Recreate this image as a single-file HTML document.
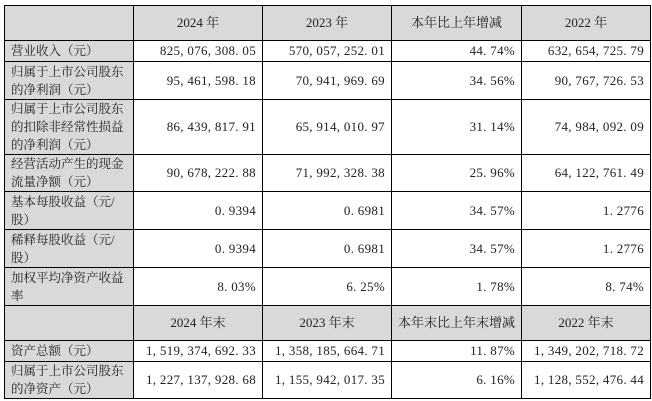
<!DOCTYPE html>
<html><head><meta charset="utf-8"><style>
html,body{margin:0;padding:0;background:#fff;width:652px;height:401px;overflow:hidden}
table{position:absolute;left:4px;top:5px;border-collapse:collapse;table-layout:fixed;font-family:"Liberation Serif","Noto Serif CJK SC",serif;font-size:13px;color:#222}
td{border:1.3px solid #000;padding:0 6px;line-height:18px;overflow:hidden;white-space:nowrap}
td.l{background:#d9d9d9;text-align:left;padding:0 0 0 6px;letter-spacing:0;font-size:12.5px}
td.n{text-align:right;letter-spacing:0.3px}
tr.h td{background:#d9d9d9;text-align:center}
</style></head><body>
<table>
<colgroup><col style="width:129px"><col style="width:129px"><col style="width:129px"><col style="width:126px"><col style="width:129px"></colgroup>
<tr class="h" style="height:35px"><td></td><td>2024 年</td><td>2023 年</td><td>本年比上年增减</td><td>2022 年</td></tr>
<tr style="height:21px"><td class="l">营业收入（元）</td><td class="n">825, 076, 308. 05</td><td class="n">570, 057, 252. 01</td><td class="n">44. 74%</td><td class="n">632, 654, 725. 79</td></tr>
<tr style="height:38px"><td class="l">归属于上市公司股东<br>的净利润（元）</td><td class="n">95, 461, 598. 18</td><td class="n">70, 941, 969. 69</td><td class="n">34. 56%</td><td class="n">90, 767, 726. 53</td></tr>
<tr style="height:54px"><td class="l">归属于上市公司股东<br>的扣除非经常性损益<br>的净利润（元）</td><td class="n">86, 439, 817. 91</td><td class="n">65, 914, 010. 97</td><td class="n">31. 14%</td><td class="n">74, 984, 092. 09</td></tr>
<tr style="height:37px"><td class="l">经营活动产生的现金<br>流量净额（元）</td><td class="n">90, 678, 222. 88</td><td class="n">71, 992, 328. 38</td><td class="n">25. 96%</td><td class="n">64, 122, 761. 49</td></tr>
<tr style="height:38px"><td class="l">基本每股收益（元/<br>股）</td><td class="n">0. 9394</td><td class="n">0. 6981</td><td class="n">34. 57%</td><td class="n">1. 2776</td></tr>
<tr style="height:38px"><td class="l">稀释每股收益（元/<br>股）</td><td class="n">0. 9394</td><td class="n">0. 6981</td><td class="n">34. 57%</td><td class="n">1. 2776</td></tr>
<tr style="height:38px"><td class="l">加权平均净资产收益<br>率</td><td class="n">8. 03%</td><td class="n">6. 25%</td><td class="n">1. 78%</td><td class="n">8. 74%</td></tr>
<tr class="h" style="height:35px"><td></td><td>2024 年末</td><td>2023 年末</td><td>本年末比上年末增减</td><td>2022 年末</td></tr>
<tr style="height:21px"><td class="l">资产总额（元）</td><td class="n">1, 519, 374, 692. 33</td><td class="n">1, 358, 185, 664. 71</td><td class="n">11. 87%</td><td class="n">1, 349, 202, 718. 72</td></tr>
<tr style="height:35px"><td class="l">归属于上市公司股东<br>的净资产（元）</td><td class="n">1, 227, 137, 928. 68</td><td class="n">1, 155, 942, 017. 35</td><td class="n">6. 16%</td><td class="n">1, 128, 552, 476. 44</td></tr>
</table>
</body></html>
